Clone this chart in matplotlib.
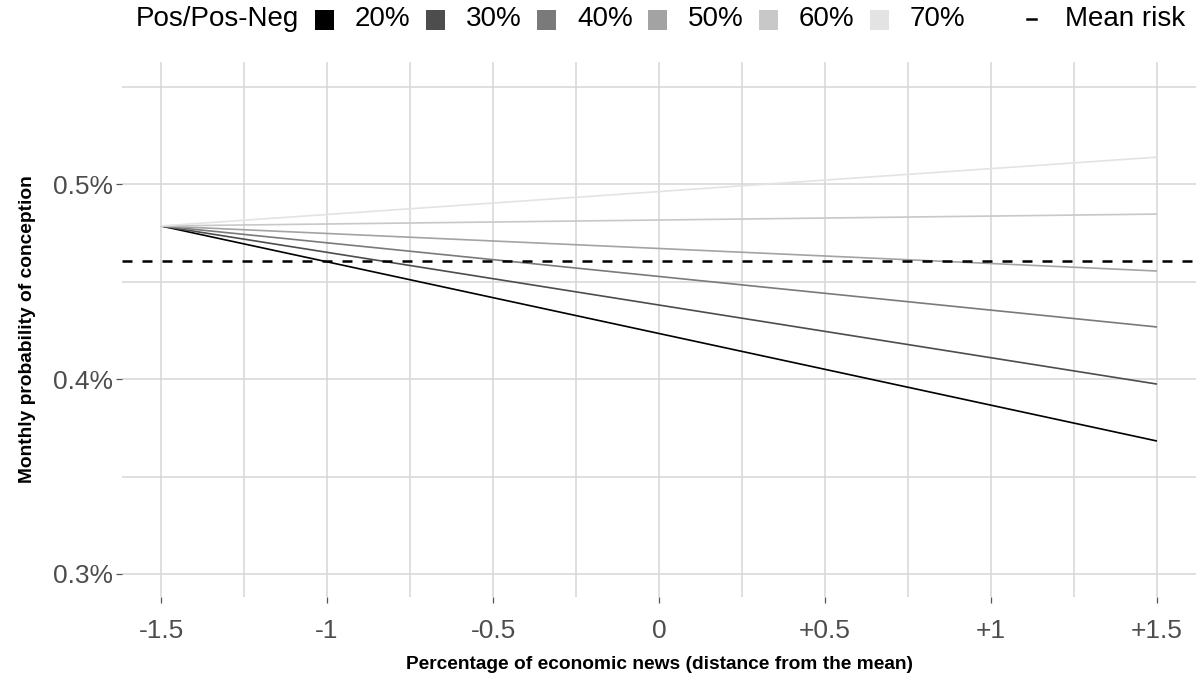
import matplotlib.pyplot as plt
from matplotlib.patches import Rectangle
from matplotlib.lines import Line2D
from matplotlib.ticker import FixedLocator

plt.rcParams['font.family'] = ['Liberation Sans', 'DejaVu Sans']

# data (percent units)
x = [-1.5, 1.5]
groups = ['20%', '30%', '40%', '50%', '60%', '70%']
start_val = 0.4785
end_vals = [0.3682, 0.3974, 0.4267, 0.4554, 0.4846, 0.5138]
mean_risk = 0.4605
greys = ['#000000', '#4d4d4d', '#7a7a7a', '#a3a3a3', '#c8c8c8', '#e3e3e3']

xticks = [-1.5, -1, -0.5, 0, 0.5, 1, 1.5]
xticklabels = ['-1.5', '-1', '-0.5', '0', '+0.5', '+1', '+1.5']
yticks = [0.3, 0.4, 0.5]
yticklabels = ['0.3%', '0.4%', '0.5%']

W, H = 1200, 684
fig = plt.figure(figsize=(W / 100, H / 100), dpi=100)
ax = fig.add_axes([122 / W, 1 - 597 / H, (1196 - 122) / W, (597 - 62) / H])

GRID = '#d6d6d6'
ax.set_xlim(-1.6175, 1.6175)
ax.set_ylim(0.2882, 0.5626)
ax.set_xticks(xticks)
ax.set_xticklabels(xticklabels)
ax.set_yticks(yticks)
ax.set_yticklabels(yticklabels)
ax.xaxis.set_minor_locator(FixedLocator([-1.25, -0.75, -0.25, 0.25, 0.75, 1.25]))
ax.yaxis.set_minor_locator(FixedLocator([0.35, 0.45, 0.55]))
ax.grid(True, which='both', color=GRID, lw=1.1)
ax.set_axisbelow(True)
ax.tick_params(which='minor', length=0)
ax.tick_params(which='major', length=4.5, width=0.9, color='#555555',
               labelcolor='#4d4d4d', labelsize=19)
ax.tick_params(axis='x', pad=11)
ax.tick_params(axis='y', pad=2)
for s in ax.spines.values():
    s.set_visible(False)

for g, e, c in zip(groups, end_vals, greys):
    ax.plot(x, [start_val, e], color=c, lw=1.2, solid_capstyle='butt')

ax.axhline(mean_risk, color='black', lw=1.8, dashes=(4, 4))

ax.set_xlabel('Percentage of economic news (distance from the mean)',
              fontsize=13.8, fontweight='bold', labelpad=10)
ax.set_ylabel('Monthly probability of conception',
              fontsize=13.8, fontweight='bold', labelpad=12)

# legend along the top
def px(xp, yp):
    return xp / W, 1 - yp / H

base = 26
fig.text(*px(136, base), 'Pos/Pos-Neg', fontsize=20, va='baseline', ha='left')
for i, (g, c) in enumerate(zip(groups, greys)):
    x0 = 315 + i * 111
    fig.add_artist(Rectangle(px(x0, 29.5), 19 / W, 19 / H,
                             transform=fig.transFigure, facecolor=c, edgecolor='none'))
    fig.text(*px(x0 + 40, base), g, fontsize=20, va='baseline', ha='left')

fig.add_artist(Line2D([1027 / W, 1036 / W], [1 - 19 / H, 1 - 19 / H],
                      transform=fig.transFigure, color='black', lw=1.8))
fig.text(*px(1065, base), 'Mean risk', fontsize=20, va='baseline', ha='left')

fig.savefig('out.png', dpi=100, facecolor='white')
